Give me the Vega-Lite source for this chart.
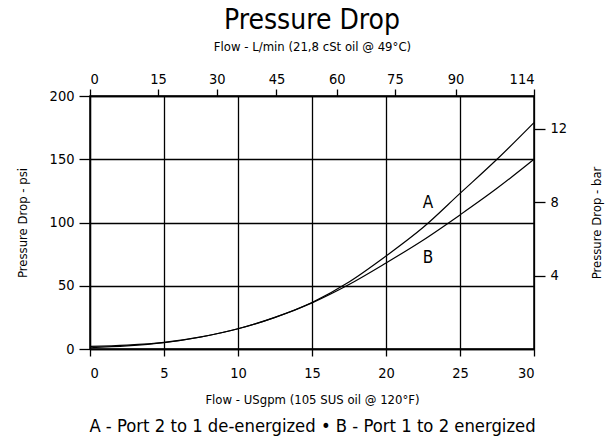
{
  "$schema": "https://vega.github.io/schema/vega-lite/v6.json",
  "autosize": "none",
  "width": 444,
  "height": 253,
  "padding": {"left": 90, "top": 96, "right": 72, "bottom": 91},
  "background": "white",
  "title": {
    "text": "Pressure Drop",
    "fontSize": 28,
    "fontWeight": "normal",
    "font": "Liberation Sans Narrow, DejaVu Sans Condensed, sans-serif",
    "color": "black",
    "offset": 5
  },
  "datasets": {
    "curves": [
      {"gpm": 0, "psi": 2, "series": "A"},
      {"gpm": 2.5, "psi": 3, "series": "A"},
      {"gpm": 5, "psi": 5.2, "series": "A"},
      {"gpm": 7.5, "psi": 9.6, "series": "A"},
      {"gpm": 10, "psi": 16, "series": "A"},
      {"gpm": 12.5, "psi": 25, "series": "A"},
      {"gpm": 15, "psi": 36.8, "series": "A"},
      {"gpm": 17.5, "psi": 53, "series": "A"},
      {"gpm": 20, "psi": 73.5, "series": "A"},
      {"gpm": 22.5, "psi": 96, "series": "A"},
      {"gpm": 25, "psi": 123, "series": "A"},
      {"gpm": 27.5, "psi": 150, "series": "A"},
      {"gpm": 30, "psi": 179, "series": "A"},
      {"gpm": 0, "psi": 1, "series": "B"},
      {"gpm": 2.5, "psi": 2.4, "series": "B"},
      {"gpm": 5, "psi": 5, "series": "B"},
      {"gpm": 7.5, "psi": 9.5, "series": "B"},
      {"gpm": 10, "psi": 16, "series": "B"},
      {"gpm": 12.5, "psi": 25, "series": "B"},
      {"gpm": 15, "psi": 36.5, "series": "B"},
      {"gpm": 17.5, "psi": 51, "series": "B"},
      {"gpm": 20, "psi": 68, "series": "B"},
      {"gpm": 22.5, "psi": 86, "series": "B"},
      {"gpm": 25, "psi": 106, "series": "B"},
      {"gpm": 27.5, "psi": 127, "series": "B"},
      {"gpm": 30, "psi": 150, "series": "B"}
    ],
    "labels": [
      {"gpm": 22.84, "psi": 115.3, "label": "A"},
      {"gpm": 22.84, "psi": 71.9, "label": "B"}
    ],
    "bar": [
      {"bar": 4}, {"bar": 8}, {"bar": 12}
    ]
  },
  "layer": [
    {
      "layer": [
        {
          "data": {"name": "curves"},
          "mark": {"type": "line", "interpolate": "monotone", "color": "black", "strokeWidth": 1.2},
          "encoding": {
            "x": {
              "field": "gpm", "type": "quantitative",
              "scale": {"domain": [0, 30], "nice": false, "zero": false},
              "axis": {
                "orient": "bottom",
                "values": [0, 5, 10, 15, 20, 25, 30],
                "title": "Flow - USgpm (105 SUS oil @ 120°F)",
                "grid": true,
                "tickSize": 7,
                "labelPadding": 10,
                "titlePadding": 14,
                "titleFontSize": 13
              }
            },
            "y": {
              "field": "psi", "type": "quantitative",
              "scale": {"domain": [0, 200], "nice": false},
              "axis": {
                "orient": "left",
                "values": [0, 50, 100, 150, 200],
                "title": "Pressure Drop - psi",
                "grid": true,
                "tickSize": 11,
                "labelPadding": 5,
                "titlePadding": 20,
                "titleFontSize": 13
              }
            },
            "detail": {"field": "series"}
          }
        },
        {
          "data": {"name": "labels"},
          "mark": {"type": "text", "fontSize": 17, "color": "black", "font": "Liberation Sans Narrow, DejaVu Sans Condensed, sans-serif"},
          "encoding": {
            "x": {"field": "gpm", "type": "quantitative", "axis": null},
            "y": {"field": "psi", "type": "quantitative"},
            "text": {"field": "label"}
          }
        },
        {
          "data": {"name": "curves"},
          "mark": {"type": "point", "opacity": 0},
          "encoding": {
            "x": {
              "field": "gpm", "type": "quantitative",
              "axis": {
                "orient": "top",
                "values": [0, 4.6, 8.56, 12.6, 16.67, 20.6, 24.7, 30],
                "labelExpr": "datum.value < 1 ? '0' : datum.value < 6 ? '15' : datum.value < 10 ? '30' : datum.value < 14 ? '45' : datum.value < 18 ? '60' : datum.value < 22 ? '75' : datum.value < 26 ? '90' : '114'",
                "title": "Flow - L/min (21,8 cSt oil @ 49°C)",
                "grid": false,
                "tickSize": 7,
                "labelPadding": 3,
                "titlePadding": 18,
                "titleFontSize": 13
              }
            }
          }
        },
        {
          "data": {"name": "curves"},
          "mark": {"type": "point", "opacity": 0},
          "encoding": {
            "x": {
              "field": "gpm", "type": "quantitative",
              "axis": {
                "orient": "bottom",
                "labels": false,
                "ticks": false,
                "domain": false,
                "grid": false,
                "title": "A - Port 2 to 1 de-energized • B - Port 1 to 2 energized",
                "titleFontSize": 18.3,
                "titlePadding": 68
              }
            }
          }
        }
      ],
      "resolve": {"axis": {"x": "independent"}}
    },
    {
      "data": {"name": "bar"},
      "mark": {"type": "point", "opacity": 0},
      "encoding": {
        "y": {
          "field": "bar", "type": "quantitative",
          "scale": {"domain": [0, 13.79], "nice": false},
          "axis": {
            "orient": "right",
            "values": [4, 8, 12],
            "title": "Pressure Drop - bar",
            "titleAngle": 270,
            "grid": false,
            "domain": false,
            "tickSize": 11,
            "labelPadding": 5,
            "titlePadding": 37,
            "titleFontSize": 13
          }
        }
      }
    }
  ],
  "resolve": {"scale": {"y": "independent"}},
  "config": {
    "view": {"stroke": "black", "strokeWidth": 1.5},
    "axis": {
      "labelFont": "Liberation Sans Narrow, DejaVu Sans Condensed, sans-serif",
      "titleFont": "Liberation Sans Narrow, DejaVu Sans Condensed, sans-serif",
      "labelFontSize": 14.5,
      "labelColor": "black",
      "titleColor": "black",
      "titleFontWeight": "normal",
      "tickColor": "black",
      "tickWidth": 1.3,
      "domainColor": "black",
      "domainWidth": 1.3,
      "gridColor": "black",
      "gridOpacity": 1,
      "gridWidth": 1.3
    }
  }
}
